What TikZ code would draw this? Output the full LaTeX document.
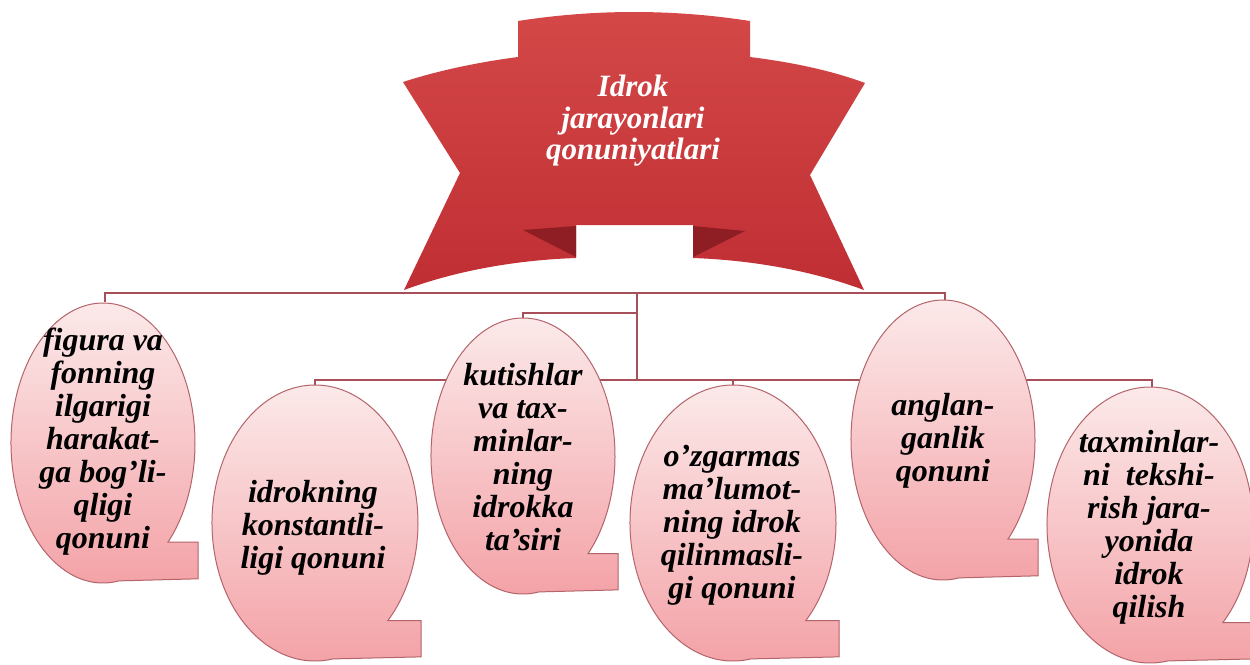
\documentclass[tikz,border=0pt]{standalone}
\usepackage{fontspec}
\setmainfont{Liberation Serif}
\definecolor{connc}{HTML}{A8505A}
\definecolor{bubborder}{HTML}{B4646A}
\definecolor{bubtop}{HTML}{FCECEC}
\definecolor{bubbot}{HTML}{F3A0A5}
\definecolor{ribtop}{HTML}{D44848}
\definecolor{ribbot}{HTML}{BF2E33}
\definecolor{ribfold}{HTML}{8E1E24}
\tikzset{
  conn/.style={draw=connc, line width=1.3pt},
  bubble/.style={draw=bubborder, line width=1pt, top color=bubtop, bottom color=bubbot},
  btext/.style={font=\fontsize{32}{33}\selectfont\bfseries\itshape, align=center, text=black, inner sep=0pt},
  ttext/.style={font=\fontsize{31}{31.5}\selectfont\bfseries\itshape, align=center, text=white, inner sep=0pt},
}
\newcommand\drawbubble[5]{%
  \path[bubble] ({#2+#4*cos(80)},{#3+#5*sin(80)})
    arc[start angle=80, end angle=405, x radius=#4, y radius=#5]
    -- ({#2+#4+3},{#3+#5*sin(45)}) -- ({#2+#4+3},{#3+0.97*#5}) -- cycle;
  \coordinate (#1) at (#2,#3);
}
\begin{document}
\begin{tikzpicture}[x=1pt, y=-1pt]
\useasboundingbox (0,0) rectangle (1250,664);
\fill[white] (0,0) rectangle (1250,664);
\clip (0,0) rectangle (1250,664);

% ribbon
\path[top color=ribtop, bottom color=ribbot]
  (518,21) .. controls (595,9) and (673,9) .. (750,21)
  -- (750,57) .. controls (790,62) and (830,70) .. (865,83)
  -- (810,175) -- (864,290)
  .. controls (810,270) and (750,260) .. (693,258)
  -- (693,225) -- (576,225) -- (576,258)
  .. controls (518,260) and (458,270) .. (404,290)
  -- (460,173) -- (403,82)
  .. controls (440,70) and (480,62) .. (518,57) -- cycle;
\fill[ribfold] (523,230) -- (576,226) -- (576,257) -- cycle;
\fill[ribfold] (693,226) -- (745,231) -- (693,257) -- cycle;
\node[ttext] (title) at (633,121) {Idrok\\jarayonlari\\qonuniyatlari};

% connector coordinates
\coordinate (hub) at (637,293);
\coordinate (hubk) at (637,313);
\coordinate (hublow) at (637,380);
\coordinate (b1top) at (105,302);
\coordinate (b5top) at (945,302);
\coordinate (b3top) at (523,320);
\coordinate (b2top) at (315,388);
\coordinate (b4top) at (733,388);
\coordinate (b6top) at (1152,390);

\draw[conn] (b1top) |- (hub) -| (b5top);
\draw[conn] (hub) -- (hublow);
\draw[conn] (b3top) |- (hubk);
\draw[conn] (b2top) |- (hublow) -| (b6top);
\draw[conn] (b4top) -- (b4top |- hublow);

% bubbles
\drawbubble{b1}{103}{443}{92}{140}
\drawbubble{b2}{315}{523}{103}{138}
\drawbubble{b3}{523}{456}{92}{138}
\drawbubble{b4}{733}{523}{103}{138}
\drawbubble{b5}{943}{440}{92}{140}
\drawbubble{b6}{1150}{525}{103}{138}

\node[btext] (t1) at (103,442) {figura va\\fonning\\ilgarigi\\harakat-\\ga bog'li-\\qligi\\qonuni};
\node[btext] (t2) at (313,528) {idrokning\\konstantli-\\ligi qonuni};
\node[btext] (t3) at (523,457) {kutishlar\\va tax-\\minlar-\\ning\\idrokka\\ta’siri};
\node[btext] (t4) at (732,525) {o'zgarmas\\ma’lumot-\\ning idrok\\qilinmasli-\\gi qonuni};
\node[btext] (t5) at (943,441) {anglan-\\ganlik\\qonuni};
\node[btext] (t6) at (1149,527) {taxminlar-\\ni\ \ tekshi-\\rish jara-\\yonida\\idrok\\qilish};
\end{tikzpicture}
\end{document}
